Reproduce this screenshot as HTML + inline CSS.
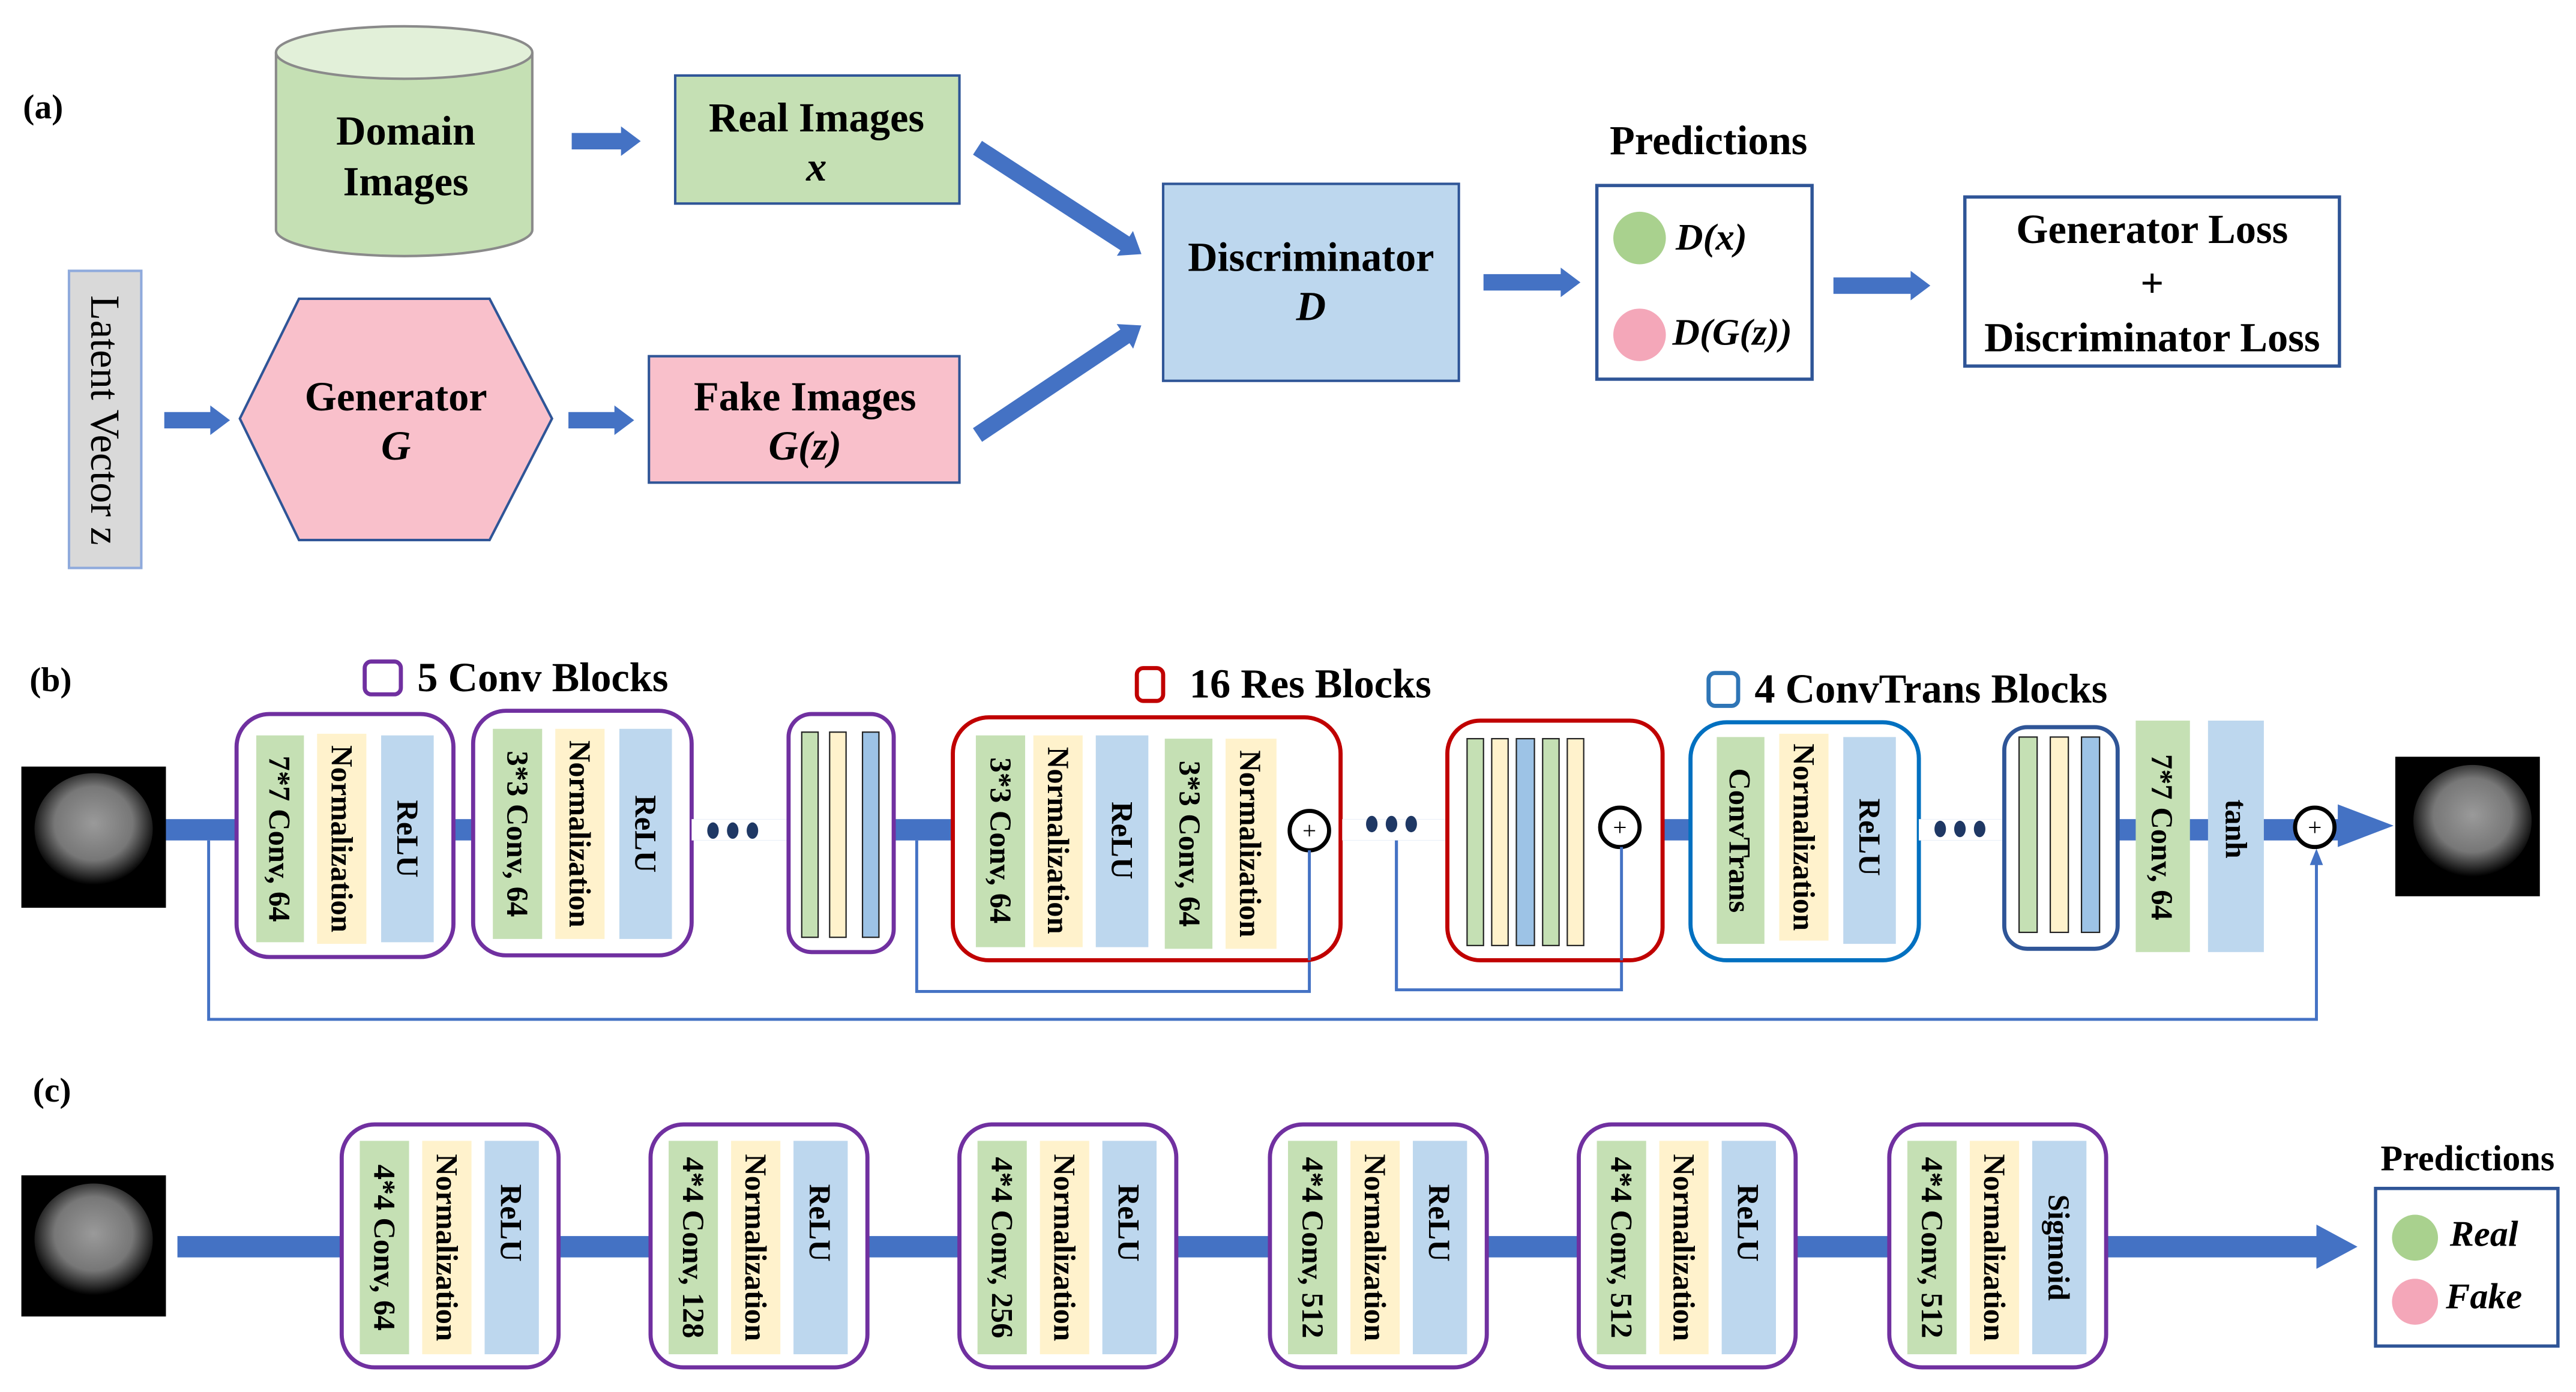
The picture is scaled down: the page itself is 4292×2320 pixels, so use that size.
<!DOCTYPE html>
<html><head><meta charset="utf-8"><style>
html,body{margin:0;padding:0;background:#fff;}
svg{display:block;}
text{font-family:"Liberation Serif",serif;font-weight:bold;fill:#000;}
</style></head><body>
<svg width="4292" height="2320" viewBox="0 0 1568 848" preserveAspectRatio="none" xmlns="http://www.w3.org/2000/svg">
<defs>
<radialGradient id="br" cx="50%" cy="45%" r="55%">
<stop offset="0" stop-color="#9a9a9a"/><stop offset="0.6" stop-color="#777"/><stop offset="1" stop-color="#000"/>
</radialGradient>
</defs>
<rect width="1568" height="848" fill="#fff"/>

<!-- (a) -->
<text x="14" y="72" font-size="21">(a)</text>
<path d="M168,32 V140 A78,16 0 0 0 324,140 V32" fill="#c5e0b4" stroke="#8a8a8a" stroke-width="1.5"/>
<ellipse cx="246" cy="32" rx="78" ry="16" fill="#e2f0d9" stroke="#8a8a8a" stroke-width="1.5"/>
<text x="247" y="88" font-size="25" text-anchor="middle">Domain</text>
<text x="247" y="119" font-size="25" text-anchor="middle">Images</text>

<g fill="#4472c4">
<polygon points="348,81 378,81 378,77 390,86 378,95 378,91 348,91"/>
<polygon points="100,251 128,251 128,247 140,256 128,265 128,261 100,261"/>
<polygon points="346,251 374,251 374,247 386,256 374,265 374,261 346,261"/>
<polygon points="903,167 950,167 950,163 962,172 950,181 950,177 903,177"/>
<polygon points="1116,169 1163,169 1163,165 1175,174 1163,183 1163,179 1116,179"/>
<g transform="translate(595,90) rotate(33)"><polygon points="0,-5 107,-5 107,-9 119,0 107,9 107,5 0,5"/></g>
<g transform="translate(595,265) rotate(-33.8)"><polygon points="0,-5 108,-5 108,-9 120,0 108,9 108,5 0,5"/></g>
</g>

<rect x="411" y="46" width="173" height="78" fill="#c5e0b4" stroke="#2f5597" stroke-width="1.5"/>
<text x="497" y="80" font-size="25" text-anchor="middle">Real Images</text>
<text x="497" y="110" font-size="25" text-anchor="middle" font-style="italic">x</text>

<rect x="42" y="165" width="44" height="181" fill="#d9d9d9" stroke="#8faadc" stroke-width="1.5"/>
<text transform="translate(64,256) rotate(90)" font-size="25" text-anchor="middle" dominant-baseline="central" style="font-weight:normal">Latent Vector z</text>

<polygon points="146,255 182,182 298,182 336,255 298,329 182,329" fill="#f9c0cb" stroke="#2f5597" stroke-width="1.5"/>
<text x="241" y="250" font-size="25" text-anchor="middle">Generator</text>
<text x="241" y="280" font-size="25" text-anchor="middle" font-style="italic">G</text>

<rect x="395" y="217" width="189" height="77" fill="#f9c0cb" stroke="#2f5597" stroke-width="1.5"/>
<text x="490" y="250" font-size="25" text-anchor="middle">Fake Images</text>
<text x="490" y="280" font-size="25" text-anchor="middle" font-style="italic">G(z)</text>

<rect x="708" y="112" width="180" height="120" fill="#bdd7ee" stroke="#2f5597" stroke-width="1.5"/>
<text x="798" y="165" font-size="25" text-anchor="middle">Discriminator</text>
<text x="798" y="195" font-size="25" text-anchor="middle" font-style="italic">D</text>

<text x="1040" y="94" font-size="25" text-anchor="middle">Predictions</text>
<rect x="972" y="113" width="131" height="118" fill="#fff" stroke="#2f5597" stroke-width="2"/>
<circle cx="998" cy="145" r="16" fill="#a9d18e"/>
<text x="1020" y="152" font-size="23" font-style="italic">D(x)</text>
<circle cx="998" cy="204" r="16" fill="#f4a7b9"/>
<text x="1018" y="210" font-size="23" font-style="italic">D(G(z))</text>

<rect x="1196" y="120" width="228" height="103" fill="#fff" stroke="#2f5597" stroke-width="2"/>
<text x="1310" y="148" font-size="25" text-anchor="middle">Generator Loss</text>
<text x="1310" y="181" font-size="25" text-anchor="middle">+</text>
<text x="1310" y="214" font-size="25" text-anchor="middle">Discriminator Loss</text>

<!-- (b) -->
<text x="18" y="421" font-size="21">(b)</text>
<rect x="222" y="403" width="22" height="20" rx="4" fill="none" stroke="#7030a0" stroke-width="2.5"/>
<text x="254" y="421" font-size="25">5 Conv Blocks</text>
<rect x="692" y="407" width="16" height="20" rx="4" fill="none" stroke="#c00000" stroke-width="2.5"/>
<text x="724" y="425" font-size="25">16 Res Blocks</text>
<rect x="1040" y="410" width="18" height="20" rx="4" fill="none" stroke="#2e75b6" stroke-width="2.5"/>
<text x="1068" y="428" font-size="25">4 ConvTrans Blocks</text>

<g fill="none" stroke="#4472c4" stroke-width="1.8">
<polyline points="127,512 127,621 1410,621 1410,521"/>
<polyline points="558,512 558,604 797,604 797,522"/>
<polyline points="850,512 850,603 987,603 987,521"/>
</g>
<g fill="#4472c4">
<polygon points="1410,517 1406,527 1414,527"/>
<polygon points="797,518 793,528 801,528"/>
<polygon points="987,517 983,527 991,527"/>
<rect x="101" y="499" width="1325" height="13"/>
<polygon points="1423,490 1457,503 1423,516"/>
</g>

<g>
<rect x="13" y="467" width="88" height="86" fill="#000"/>
<ellipse cx="57" cy="505" rx="36" ry="34" fill="url(#br)"/>
<rect x="1458" y="461" width="88" height="85" fill="#000"/>
<ellipse cx="1505" cy="500" rx="36" ry="34" fill="url(#br)"/>
<rect x="13" y="716" width="88" height="86" fill="#000"/>
<ellipse cx="57" cy="755" rx="36" ry="34" fill="url(#br)"/>
</g>

<g font-size="18.5" text-anchor="middle" dominant-baseline="central">
<rect x="144" y="435" width="132" height="148" rx="20" fill="#fff" stroke="#7030a0" stroke-width="2.5"/>
<rect x="156" y="448" width="29" height="126" fill="#c5e0b4"/>
<rect x="193" y="447" width="30" height="128" fill="#fff2cc"/>
<rect x="232" y="448" width="32" height="126" fill="#bdd7ee"/>
<text transform="translate(170,511) rotate(90)">7*7 Conv, 64</text>
<text transform="translate(208,511) rotate(90)">Normalization</text>
<text transform="translate(248,511) rotate(90)">ReLU</text>

<rect x="288" y="433" width="133" height="149" rx="20" fill="#fff" stroke="#7030a0" stroke-width="2.5"/>
<rect x="300" y="444" width="30" height="128" fill="#c5e0b4"/>
<rect x="338" y="444" width="30" height="128" fill="#fff2cc"/>
<rect x="377" y="444" width="32" height="128" fill="#bdd7ee"/>
<text transform="translate(315,508) rotate(90)">3*3 Conv, 64</text>
<text transform="translate(353,508) rotate(90)">Normalization</text>
<text transform="translate(393,508) rotate(90)">ReLU</text>
</g>
<rect x="421" y="499" width="59" height="13" fill="#fff"/>
<g fill="#1f3864"><ellipse cx="434" cy="506" rx="3.5" ry="5"/><ellipse cx="446" cy="506" rx="3.5" ry="5"/><ellipse cx="458" cy="506" rx="3.5" ry="5"/></g>

<rect x="480" y="435" width="64" height="145" rx="14" fill="#fff" stroke="#7030a0" stroke-width="2.5"/>
<rect x="488" y="446" width="10" height="125" fill="#c5e0b4" stroke="#222" stroke-width="0.8"/>
<rect x="505" y="446" width="10" height="125" fill="#fff2cc" stroke="#222" stroke-width="0.8"/>
<rect x="525" y="446" width="10" height="125" fill="#9dc3e6" stroke="#222" stroke-width="0.8"/>

<g font-size="18.5" text-anchor="middle" dominant-baseline="central">
<rect x="580" y="437" width="236" height="148" rx="22" fill="#fff" stroke="#c00000" stroke-width="2.5"/>
<rect x="594" y="448" width="30" height="129" fill="#c5e0b4"/>
<rect x="629" y="448" width="30" height="129" fill="#fff2cc"/>
<rect x="667" y="448" width="32" height="129" fill="#bdd7ee"/>
<rect x="709" y="450" width="29" height="128" fill="#c5e0b4"/>
<rect x="746" y="450" width="31" height="128" fill="#fff2cc"/>
<text transform="translate(609,512) rotate(90)">3*3 Conv, 64</text>
<text transform="translate(644,512) rotate(90)">Normalization</text>
<text transform="translate(683,512) rotate(90)">ReLU</text>
<text transform="translate(724,514) rotate(90)">3*3 Conv, 64</text>
<text transform="translate(761,514) rotate(90)">Normalization</text>
</g>
<circle cx="797" cy="506" r="12" fill="#fff" stroke="#000" stroke-width="2.5"/>
<text x="797" y="511" font-size="15" text-anchor="middle" style="font-weight:normal">+</text>
<line x1="797" y1="518" x2="797" y2="585" stroke="#4472c4" stroke-width="1.8"/>

<rect x="817" y="499" width="63" height="13" fill="#fff"/>
<g fill="#1f3864"><ellipse cx="835" cy="502" rx="3.5" ry="5"/><ellipse cx="847" cy="502" rx="3.5" ry="5"/><ellipse cx="859" cy="502" rx="3.5" ry="5"/></g>
<line x1="850" y1="512" x2="850" y2="603" stroke="#4472c4" stroke-width="1.8"/>

<rect x="881" y="439" width="131" height="146" rx="20" fill="#fff" stroke="#c00000" stroke-width="2.5"/>
<rect x="893" y="450" width="10" height="126" fill="#c5e0b4" stroke="#222" stroke-width="0.8"/>
<rect x="908" y="450" width="10" height="126" fill="#fff2cc" stroke="#222" stroke-width="0.8"/>
<rect x="923" y="450" width="11" height="126" fill="#9dc3e6" stroke="#222" stroke-width="0.8"/>
<rect x="939" y="450" width="10" height="126" fill="#c5e0b4" stroke="#222" stroke-width="0.8"/>
<rect x="954" y="450" width="10" height="126" fill="#fff2cc" stroke="#222" stroke-width="0.8"/>
<circle cx="986" cy="504" r="12" fill="#fff" stroke="#000" stroke-width="2.5"/>
<text x="986" y="509" font-size="15" text-anchor="middle" style="font-weight:normal">+</text>
<line x1="987" y1="516" x2="987" y2="585" stroke="#4472c4" stroke-width="1.8"/>

<g font-size="18.5" text-anchor="middle" dominant-baseline="central">
<rect x="1029" y="440" width="139" height="145" rx="22" fill="#fff" stroke="#0070c0" stroke-width="2.5"/>
<rect x="1045" y="449" width="29" height="126" fill="#c5e0b4"/>
<rect x="1083" y="447" width="30" height="126" fill="#fff2cc"/>
<rect x="1122" y="449" width="32" height="126" fill="#bdd7ee"/>
<text transform="translate(1059,512) rotate(90)">ConvTrans</text>
<text transform="translate(1098,510) rotate(90)">Normalization</text>
<text transform="translate(1138,510) rotate(90)">ReLU</text>
</g>
<rect x="1168" y="499" width="52" height="13" fill="#fff"/>
<g fill="#1f3864"><ellipse cx="1181" cy="505" rx="3.5" ry="5"/><ellipse cx="1193" cy="505" rx="3.5" ry="5"/><ellipse cx="1205" cy="505" rx="3.5" ry="5"/></g>

<rect x="1220" y="443" width="69" height="135" rx="14" fill="#fff" stroke="#2f5597" stroke-width="2.5"/>
<rect x="1229" y="449" width="11" height="119" fill="#c5e0b4" stroke="#222" stroke-width="0.8"/>
<rect x="1248" y="449" width="11" height="119" fill="#fff2cc" stroke="#222" stroke-width="0.8"/>
<rect x="1267" y="449" width="11" height="119" fill="#9dc3e6" stroke="#222" stroke-width="0.8"/>

<rect x="1300" y="439" width="33" height="141" fill="#c5e0b4"/>
<rect x="1344" y="439" width="34" height="141" fill="#bdd7ee"/>
<g font-size="18.5" text-anchor="middle" dominant-baseline="central">
<text transform="translate(1316,510) rotate(90)">7*7 Conv, 64</text>
<text transform="translate(1361,505) rotate(90)">tanh</text>
</g>
<circle cx="1409" cy="504" r="12" fill="#fff" stroke="#000" stroke-width="2.5"/>
<text x="1409" y="509" font-size="15" text-anchor="middle" style="font-weight:normal">+</text>

<!-- (c) -->
<text x="20" y="671" font-size="21">(c)</text>
<g fill="#4472c4">
<rect x="108" y="753" width="1306" height="13"/>
<polygon points="1410,746 1435,759.5 1410,773"/>
</g>
<g id="c1">
<rect x="208" y="685" width="132" height="148" rx="20" fill="#fff" stroke="#7030a0" stroke-width="2.5"/>
<rect x="219" y="695" width="30" height="130" fill="#c5e0b4"/>
<rect x="257" y="695" width="30" height="130" fill="#fff2cc"/>
<rect x="295" y="695" width="33" height="130" fill="#bdd7ee"/>
</g>
<use href="#c1" x="188"/>
<use href="#c1" x="376"/>
<use href="#c1" x="565"/>
<use href="#c1" x="753"/>
<use href="#c1" x="942"/>
<g font-size="18.5" text-anchor="middle" dominant-baseline="central">
<text transform="translate(234,760) rotate(90)">4*4 Conv, 64</text>
<text transform="translate(272,760) rotate(90)">Normalization</text>
<text transform="translate(311,745) rotate(90)">ReLU</text>
<text transform="translate(422,760) rotate(90)">4*4 Conv, 128</text>
<text transform="translate(460,760) rotate(90)">Normalization</text>
<text transform="translate(499,745) rotate(90)">ReLU</text>
<text transform="translate(610,760) rotate(90)">4*4 Conv, 256</text>
<text transform="translate(648,760) rotate(90)">Normalization</text>
<text transform="translate(687,745) rotate(90)">ReLU</text>
<text transform="translate(799,760) rotate(90)">4*4 Conv, 512</text>
<text transform="translate(837,760) rotate(90)">Normalization</text>
<text transform="translate(876,745) rotate(90)">ReLU</text>
<text transform="translate(987,760) rotate(90)">4*4 Conv, 512</text>
<text transform="translate(1025,760) rotate(90)">Normalization</text>
<text transform="translate(1064,745) rotate(90)">ReLU</text>
<text transform="translate(1176,760) rotate(90)">4*4 Conv, 512</text>
<text transform="translate(1214,760) rotate(90)">Normalization</text>
<text transform="translate(1253,760) rotate(90)">Sigmoid</text>
</g>
<text x="1502" y="713" font-size="22" text-anchor="middle">Predictions</text>
<rect x="1446" y="724" width="111" height="96" fill="#fff" stroke="#2f5597" stroke-width="2"/>
<circle cx="1470" cy="754" r="14" fill="#a9d18e"/>
<text x="1512" y="759" font-size="22" text-anchor="middle" font-style="italic">Real</text>
<circle cx="1470" cy="793" r="14" fill="#f4a7b9"/>
<text x="1512" y="797" font-size="22" text-anchor="middle" font-style="italic">Fake</text>
</svg>
</body></html>
